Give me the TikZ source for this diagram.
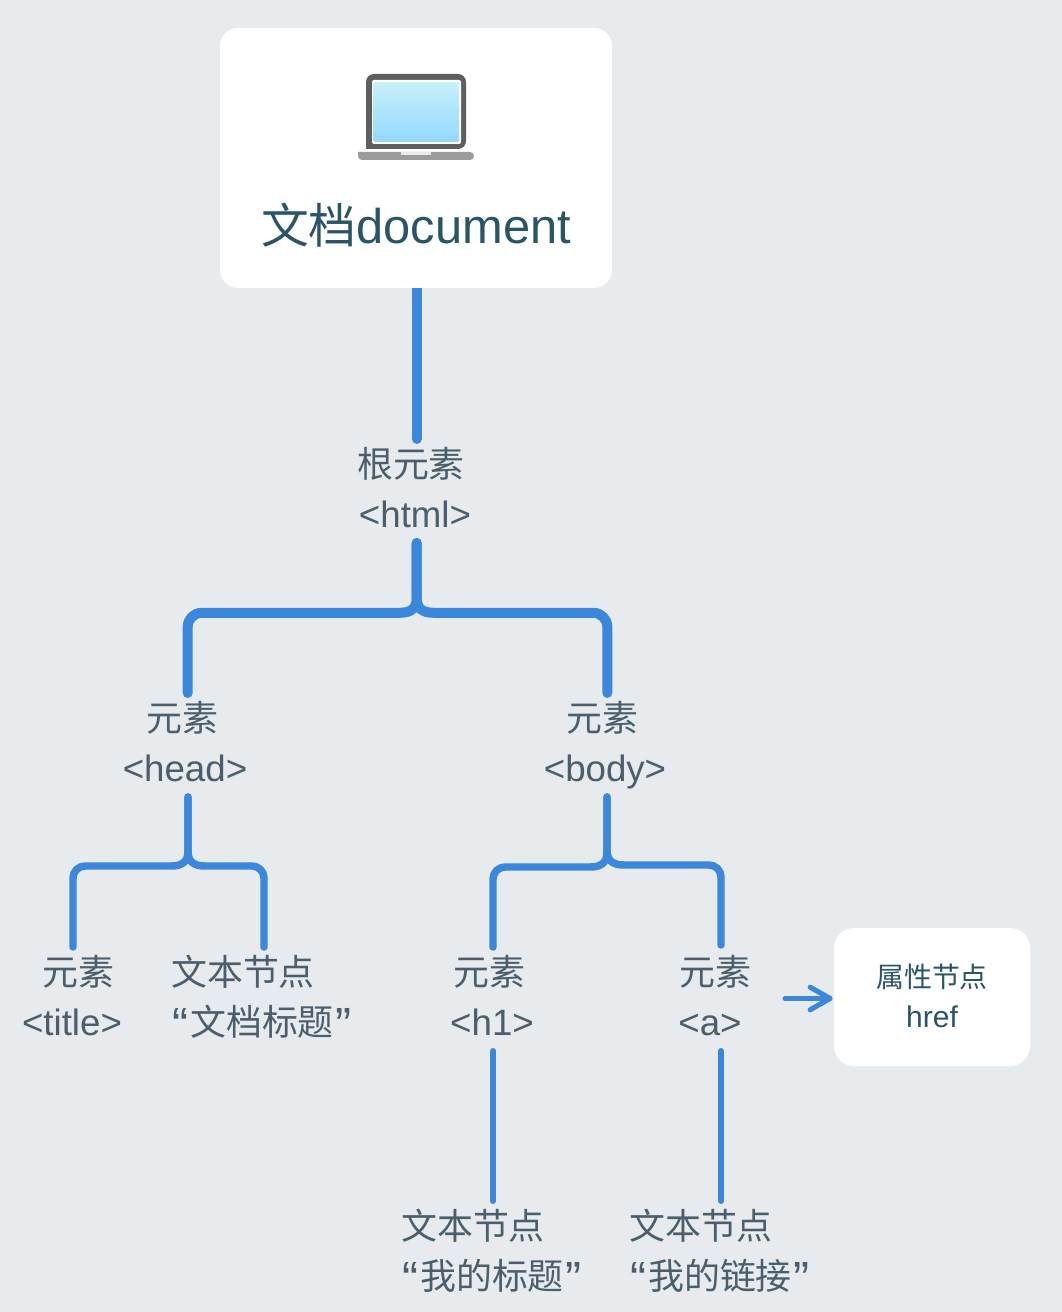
\documentclass[tikz,border=0pt]{standalone}
\usepackage{fontspec}
\setmainfont{Liberation Sans}
\newfontfamily\cjk[Scale=0.98]{Noto Sans CJK SC}
\usetikzlibrary{calc,arrows.meta}
\definecolor{bgc}{HTML}{E7EBEE}
\definecolor{linec}{HTML}{3A87DB}
\definecolor{labc}{HTML}{4B5E6B}
\definecolor{docc}{HTML}{2A5566}
\definecolor{screentop}{HTML}{C8F1F8}
\definecolor{screenbot}{HTML}{93D8FD}
\newcommand{\openq}{\raisebox{-5pt}{\fontsize{36}{40}\selectfont “}\kern1pt}
\newcommand{\closeq}{\kern1pt\raisebox{-5pt}{\fontsize{36}{40}\selectfont ”}}
\tikzset{
  lab/.style={inner sep=0pt,outer sep=0pt,anchor=base,text=labc,font=\fontsize{27.5}{30}\selectfont},
  upperlab/.style={lab,text height=28.5pt,text depth=4pt},
  lowerlab/.style={lab,text height=20pt,text depth=12pt},
  card/.style={fill=white,rounded corners=#1,inner sep=0pt,outer sep=0pt},
  wideline/.style={draw=linec,line width=7.5pt,line cap=round,line join=round},
  midline/.style={draw=linec,line width=5.6pt,line cap=round,line join=round},
  thinline/.style={draw=linec,line width=4.5pt,line cap=round,line join=round},
  pointer/.style={draw=linec,line width=3.8pt,line cap=round,-{Straight Barb[length=15pt,width=17pt,round]},shorten >=1pt}
}
\newcommand{\forkside}[6]{% style, stem start, junction, sign, corner radius, end
  \draw[#1] (#2 -| #3) -- ($(#3)+(0,-15)$) .. controls ($(#3)+(0,-5)$) and ($(#3)+(#4*5,0)$) .. ($(#3)+(#4*17,0)$)
    [rounded corners=#5] -- (#3 -| #6) -- (#6);}
\begin{document}
\begin{tikzpicture}[x=.75pt,y=-.75pt]
\useasboundingbox (0,0) rectangle (1062,1312);
\fill[bgc] (0,0) rectangle (1062,1312);
% cards
\node[card=13.5pt,minimum width=294pt,minimum height=195pt] (doc) at (416,158) {};
\node[card=15pt,minimum width=147pt,minimum height=103.5pt] (attr) at (932,997) {};
% laptop
\fill[fill=black!63,rounded corners=6pt] (366,149) -- (366,74) -- (466,74) -- (466,149) [sharp corners] -- cycle;
\fill[white,rounded corners=1.5pt] (372,80) rectangle (461,144);
\shade[top color=screentop,bottom color=screenbot,rounded corners=1.5pt] (373.5,82) rectangle (459,142);
\fill[black!39,rounded corners=3pt] (358,152) -- (358,160) -- (474,160) -- (474,152) [sharp corners] -- cycle;
\fill[black!8] (401,152) rectangle (431,155);
% texts
\node[anchor=base,inner sep=0pt,text=docc,font=\fontsize{36.6}{40}\selectfont] (doctext) at (416,244) {{\cjk 文档}document};
\node[anchor=base,inner sep=0pt,text=docc,font=\cjk\fontsize{21.4}{24}\selectfont] (attrA) at (932,987) {属性节点};
\node[anchor=base,inner sep=0pt,text=docc,font=\fontsize{22.5}{24}\selectfont] (attrB) at (932,1027) {href};
\node[upperlab] (rootA) at (411,477) {\cjk 根元素};
\node[lowerlab] (rootB) at (415,527) {<html>};
\node[upperlab] (headA) at (182,731) {\cjk 元素};
\node[lowerlab] (headB) at (185,781) {<head>};
\node[upperlab] (bodyA) at (602,731) {\cjk 元素};
\node[lowerlab] (bodyB) at (605,781) {<body>};
\node[upperlab] (titleA) at (78,985) {\cjk 元素};
\node[lowerlab] (titleB) at (72,1035) {<title>};
\node[upperlab] (tna) at (243,985) {\cjk 文本节点};
\node[lowerlab] (tnb) at (262,1035) {\openq{\cjk 文档标题}\closeq};
\node[upperlab] (honeA) at (489,985) {\cjk 元素};
\node[lowerlab] (honeB) at (492,1035) {<h1>};
\node[upperlab] (linkA) at (715,985) {\cjk 元素};
\node[lowerlab] (linkB) at (710,1035) {<a>};
\node[upperlab] (tnc) at (473,1239) {\cjk 文本节点};
\node[lowerlab] (tnd) at (492,1289) {\openq{\cjk 我的标题}\closeq};
\node[upperlab] (tne) at (701,1239) {\cjk 文本节点};
\node[lowerlab] (tnf) at (720,1289) {\openq{\cjk 我的链接}\closeq};
% connectors
\coordinate (jroot) at (416.7,612.8);
\coordinate (jhead) at (188,866);
\coordinate (jbodyl) at (607,867);
\coordinate (jbodyr) at (607,865);
\coordinate (endhead) at ([shift={(5.7,0)}]headA.north);
\coordinate (endbody) at ([shift={(5.3,0)}]bodyA.north);
\coordinate (endtitle) at ([shift={(-5,0)}]titleA.north);
\coordinate (endtna) at ([shift={(21,0)}]tna.north);
\coordinate (endh) at ([shift={(4,0)}]honeA.north);
\coordinate (endlink) at ([shift={(6,-2)}]linkA.north);
\draw[wideline,shorten <=3.75pt] (doc.south -| jroot) -- (rootA.north -| jroot);
\draw[wideline,line cap=butt] (doc.south -| jroot) -- ++(0,12);
\forkside{wideline}{rootB.south}{jroot}{-1}{10.5pt}{endhead}
\forkside{wideline}{rootB.south}{jroot}{1}{10.5pt}{endbody}
\forkside{midline}{headB.south}{jhead}{-1}{9pt}{endtitle}
\forkside{midline}{headB.south}{jhead}{1}{9pt}{endtna}
\forkside{midline}{bodyB.south}{jbodyl}{-1}{9pt}{endh}
\forkside{midline}{bodyB.south}{jbodyr}{1}{9pt}{endlink}
\draw[thinline] (endh |- honeB.south) -- (endh |- tnc.north);
\draw[thinline] (endlink |- linkB.south) -- (endlink |- tne.north);
\coordinate (arrowstart) at (785,998.5);
\draw[pointer] (arrowstart) -- (attr.west |- arrowstart);
\end{tikzpicture}
\end{document}
